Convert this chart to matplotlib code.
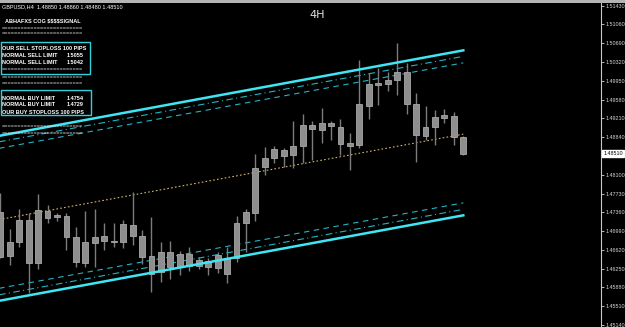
import numpy as np
import matplotlib
matplotlib.use("Agg")
import matplotlib.pyplot as plt
from matplotlib.patches import Rectangle

plt.rcParams["text.parse_math"] = False

# GBPUSD H4 candles (open, high, low, close)
opens = [1.47366, 1.46775, 1.46775, 1.47208, 1.46361, 1.47386, 1.47307, 1.47287, 1.46873, 1.46361,
         1.46755, 1.46893, 1.46795, 1.46775, 1.47110, 1.46893, 1.46499, 1.46184, 1.46578, 1.46282,
         1.46539, 1.46302, 1.46401, 1.46263, 1.46460, 1.46460, 1.47149, 1.47346, 1.48252, 1.48430,
         1.48587, 1.48489, 1.48666, 1.49080, 1.48981, 1.49119, 1.49040, 1.48725, 1.48686, 1.49454,
         1.49868, 1.49888, 1.49966, 1.50124, 1.49494, 1.48863, 1.49040, 1.49218, 1.49257, 1.48850]
highs = [1.47740, 1.47031, 1.47425, 1.47346, 1.47721, 1.47504, 1.47346, 1.47346, 1.47070, 1.47386,
         1.47425, 1.47149, 1.47149, 1.47208, 1.47760, 1.47011, 1.47267, 1.46775, 1.46795, 1.46598,
         1.46676, 1.46479, 1.46460, 1.46578, 1.46676, 1.47287, 1.47425, 1.48509, 1.48646, 1.48666,
         1.48627, 1.49159, 1.49297, 1.49159, 1.49415, 1.49159, 1.49198, 1.48922, 1.50360, 1.50104,
         1.50203, 1.50124, 1.50695, 1.50301, 1.49710, 1.49454, 1.49375, 1.49395, 1.49336, 1.48860]
lows = [1.46460, 1.46322, 1.46676, 1.45770, 1.46243, 1.47149, 1.47189, 1.46617, 1.46282, 1.46282,
        1.46282, 1.46617, 1.46676, 1.46656, 1.46716, 1.46342, 1.45790, 1.45987, 1.46046, 1.46125,
        1.46204, 1.46243, 1.46125, 1.46164, 1.45967, 1.46381, 1.46578, 1.47189, 1.48095, 1.48331,
        1.48252, 1.48233, 1.48331, 1.48390, 1.48725, 1.48784, 1.48489, 1.48193, 1.48627, 1.49198,
        1.49474, 1.49750, 1.49671, 1.49297, 1.48351, 1.48784, 1.48686, 1.49119, 1.48686, 1.48480]
closes = [1.46479, 1.46499, 1.47208, 1.46361, 1.47405, 1.47248, 1.47267, 1.46873, 1.46381, 1.46775,
          1.46873, 1.46795, 1.46775, 1.47130, 1.46893, 1.46479, 1.46145, 1.46578, 1.46282, 1.46539,
          1.46302, 1.46420, 1.46282, 1.46519, 1.46145, 1.47149, 1.47366, 1.48233, 1.48430, 1.48607,
          1.48469, 1.48666, 1.49080, 1.49001, 1.49119, 1.49060, 1.48706, 1.48666, 1.49494, 1.49888,
          1.49907, 1.49966, 1.50124, 1.49494, 1.48883, 1.49040, 1.49237, 1.49277, 1.48843, 1.48510]

# regression channel (centre line at first / last bar, offsets)
chan_start, chan_end = 1.4722, 1.4890
upper_off, lower_off = 0.0165, -0.0160
inner1, inner2 = 0.00118, 0.00246

price_ticks = [round(1.51430 - 0.0037 * k, 5) for k in range(18)]
last_price = 1.48510

header = "GBPUSD,H4  1.48850 1.48860 1.48480 1.48510"
title_txt = "ABHAFXS COG $$$$SIGNAL"
sell_lines = [("OUR SELL STOPLOSS 100 PIPS", ""), ("NORMAL SELL LIMIT", "1.5055"), ("NORMAL SELL LIMIT", "1.5042")]
buy_lines = [("NORMAL BUY LIMIT", "1.4754"), ("NORMAL BUY LIMIT", "1.4729"), ("OUR BUY STOPLOSS 100 PIPS", "")]
sep = "=" * 25

W, H = 625, 327
fig = plt.figure(figsize=(6.25, 3.27), dpi=100, facecolor="black")
ax = fig.add_axes([0, 0, 601 / W, 1 - 3 / H])
ax.set_facecolor("black")

n = len(opens)
idx = np.arange(n)
o = np.array(opens); c = np.array(closes)
lo_b = np.minimum(o, c)
hgt = np.maximum(np.abs(c - o), 0.00012)
ax.vlines(idx, lows, highs, color="#7c7c7c", lw=1, zorder=2)
ax.bar(idx, hgt, bottom=lo_b, width=0.62, color="#8e8e8e", edgecolor="#a8a8a8", lw=0.6, zorder=3)

# channel
xs = np.array([-1, n - 1])
mid = chan_start + (chan_end - chan_start) * xs / (n - 1)
cyan = "#3fe6f2"
dcyan = "#22b4c4"
ax.plot(xs, mid, color="#cdb46a", lw=0.8, ls=(0, (1.5, 2)), zorder=1)
ax.plot(xs, mid + upper_off, color=cyan, lw=1.8, zorder=4)
ax.plot(xs, mid + lower_off, color=cyan, lw=1.8, zorder=4)
ax.plot(xs, mid + upper_off - inner1, color=dcyan, lw=0.8, ls=(0, (6, 3, 1, 3)), zorder=1)
ax.plot(xs, mid + upper_off - inner2, color=dcyan, lw=0.8, ls=(0, (5, 4)), zorder=1)
ax.plot(xs, mid + lower_off + inner1, color=dcyan, lw=0.8, ls=(0, (6, 3, 1, 3)), zorder=1)
ax.plot(xs, mid + lower_off + inner2, color=dcyan, lw=0.8, ls=(0, (5, 4)), zorder=1)

ax.set_xlim(-0.03, 63.57)
ax.set_ylim(1.45100, 1.51483)
ax.set_xticks([])
ax.yaxis.tick_right()
ax.set_yticks(price_ticks)
ax.set_yticklabels(["%.5f" % p for p in price_ticks])
font = "Liberation Sans"
ax.tick_params(axis="y", colors="#d8d8d8", length=2, width=0.6, pad=1, labelsize=3.9)
for lab in ax.get_yticklabels():
    lab.set_family(font)
for s in ["top", "left", "bottom"]:
    ax.spines[s].set_visible(False)
ax.spines["right"].set_color("#c8c8c8")
ax.spines["right"].set_linewidth(0.8)

# current price box
ax.text(1.004, last_price, "%.5f" % last_price, transform=ax.get_yaxis_transform(),
        fontsize=3.9, family=font, color="black", va="center", ha="left",
        bbox=dict(boxstyle="square,pad=0.2", fc="white", ec="white"), clip_on=False)

# top frame line
fig.add_artist(Rectangle((0, 1 - 2.5 / H), 1, 2.5 / H, transform=fig.transFigure,
                         color="#b4b4b4", lw=0))


def px(x, y):
    return x / W, 1 - y / H


fs = 4.0
fig.text(*px(2, 7), header, color="white", fontsize=fs, family=font, va="center")
fig.text(*px(5, 20.5), title_txt, color="white", fontsize=fs, family=font, va="center", weight="bold")
for y in [28.3, 33.5, 70, 77.3, 83.3, 127, 133.5]:
    fig.text(*px(2, y), sep, color="#e0e0e0", fontsize=fs, family=font, va="center")

for (label, val), y in zip(sell_lines, [48.7, 55.3, 62]):
    fig.text(*px(2, y), label, color="white", fontsize=fs, family=font, va="center", weight="bold")
    if val:
        fig.text(*px(84, y), val, color="white", fontsize=fs, family=font, va="center", ha="right", weight="bold")
for (label, val), y in zip(buy_lines, [98.3, 104.7, 112]):
    fig.text(*px(2, y), label, color="white", fontsize=fs, family=font, va="center", weight="bold")
    if val:
        fig.text(*px(84, y), val, color="white", fontsize=fs, family=font, va="center", ha="right", weight="bold")

box_col = "#35cfd8"
fig.add_artist(Rectangle(px(1, 74), 89 / W, 32 / H, transform=fig.transFigure,
                         fill=False, ec=box_col, lw=1))
fig.add_artist(Rectangle(px(1, 115), 90 / W, 25 / H, transform=fig.transFigure,
                         fill=False, ec=box_col, lw=1))

fig.text(*px(317, 15), "4H", color="#e0e0e0", fontsize=8, ha="center", va="center")

fig.savefig("out.png", dpi=100, facecolor="black")
